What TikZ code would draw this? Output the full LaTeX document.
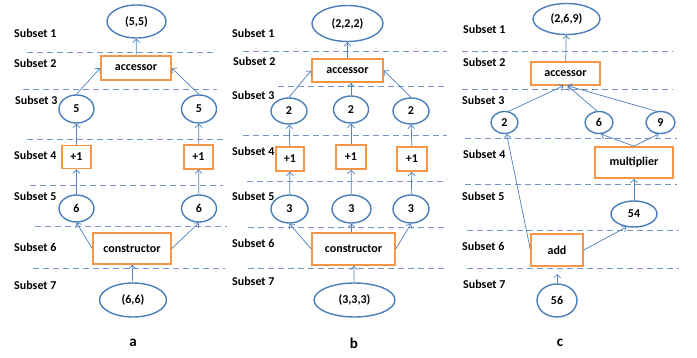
\documentclass[tikz,border=0pt]{standalone}
\usepackage{fontspec}
\setmainfont{Carlito}
\usetikzlibrary{arrows.meta,shapes.geometric,calc}
\definecolor{eblue}{RGB}{74,126,187}
\definecolor{aline}{RGB}{79,129,189}
\definecolor{dline}{RGB}{118,148,200}
\definecolor{obox}{RGB}{247,150,70}
\tikzset{
  val/.style={ellipse,draw=eblue,line width=1.4pt,inner sep=0pt,font=\bfseries\fontsize{12}{14}\selectfont},
  opbox/.style={rectangle,draw=obox,line width=1.6pt,inner sep=0pt,font=\bfseries\fontsize{12}{14}\selectfont},
  lbl/.style={anchor=west,inner sep=0pt,font=\bfseries\fontsize{12}{14}\selectfont},
  panelcap/.style={inner sep=0pt,font=\bfseries\fontsize{15}{17}\selectfont},
  arr/.style={draw=aline,line width=0.7pt,-{Straight Barb[length=3.5pt,width=7pt]}},
  sep/.style={draw=dline,line width=1pt,dash pattern=on 6pt off 4pt}
}
\begin{document}
\begin{tikzpicture}[x=1pt,y=-1pt]
\useasboundingbox[fill=white] (0,0) rectangle (697,358);
% ---------- dashed separators ----------
\draw[sep] (27,52.7) -- (217,52.7);
\draw[sep] (23,90) -- (217,90);
\draw[sep] (27,140) -- (224,140);
\draw[sep] (30,186) -- (223,186);
\draw[sep] (35,227) -- (227,227);
\draw[sep] (33,269) -- (225,269);

\draw[sep] (243,52) -- (447,52);
\draw[sep] (278,87) -- (447,87);
\draw[sep] (243,136) -- (447,136);
\draw[sep] (247,182) -- (447,182);
\draw[sep] (248,228) -- (447,228);
\draw[sep] (248,269) -- (447,269);

\draw[sep] (462,52) -- (673,52);
\draw[sep] (462,90) -- (673,90);
\draw[sep] (465,139) -- (677,139);
\draw[sep] (465,185) -- (677,185);
\draw[sep] (467,231) -- (679,231);
\draw[sep] (467,269) -- (679,269);

% ---------- subset labels ----------
\node[lbl] (la1) at (14,33) {Subset 1};
\node[lbl] (la2) at (14,63) {Subset 2};
\node[lbl] (la3) at (15,100) {Subset 3};
\node[lbl] (la4) at (14,155) {Subset 4};
\node[lbl] (la5) at (14,196) {Subset 5};
\node[lbl] (la6) at (14,247) {Subset 6};
\node[lbl] (la7) at (14,285) {Subset 7};

\node[lbl] (lb1) at (232,33) {Subset 1};
\node[lbl] (lb2) at (233,61) {Subset 2};
\node[lbl] (lb3) at (232,95) {Subset 3};
\node[lbl] (lb4) at (232,151) {Subset 4};
\node[lbl] (lb5) at (232,196) {Subset 5};
\node[lbl] (lb6) at (232,243) {Subset 6};
\node[lbl] (lb7) at (232,281) {Subset 7};

\node[lbl] (lc1) at (463,29) {Subset 1};
\node[lbl] (lc2) at (463,62) {Subset 2};
\node[lbl] (lc3) at (462,100) {Subset 3};
\node[lbl] (lc4) at (463,154) {Subset 4};
\node[lbl] (lc5) at (462,196) {Subset 5};
\node[lbl] (lc6) at (462,246) {Subset 6};
\node[lbl] (lc7) at (463,284) {Subset 7};

% ---------- panel a ----------
\node[val,minimum width=59pt,minimum height=33pt] (a55) at (136.5,21.5) {(5,5)};
\node[opbox,minimum width=70pt,minimum height=24pt] (aacc) at (136,68) {accessor};
\node[val,minimum width=35pt,minimum height=28pt] (a5l) at (76.5,109) {5};
\node[val,minimum width=35pt,minimum height=28pt] (a5r) at (199,109) {5};
\node[opbox,minimum width=29pt,minimum height=23pt] (ap1l) at (76.5,157) {+1};
\node[opbox,minimum width=29pt,minimum height=23.5pt] (ap1r) at (198.5,157) {+1};
\node[val,minimum width=35pt,minimum height=27pt] (a6l) at (76.5,208.5) {6};
\node[val,minimum width=35pt,minimum height=27pt] (a6r) at (199,208.5) {6};
\node[opbox,minimum width=78pt,minimum height=31pt] (acon) at (132,248.5) {constructor};
\node[val,minimum width=67pt,minimum height=34pt] (a66) at (133,300) {(6,6)};
\node[panelcap] (capa) at (133,343) {a};

\draw[arr] (aacc) -- (a55);
\draw[arr] (a5l.north) -- (aacc.west);
\draw[arr] (a5r.north) -- (aacc.east);
\draw[arr] (ap1l) -- (a5l);
\draw[arr] (ap1r) -- (a5r);
\draw[arr] (a6l) -- (ap1l);
\draw[arr] (a6r) -- (ap1r);
\draw[arr] (acon.west) -- (a6l.south);
\draw[arr] (acon.east) -- (a6r.south);
\draw[arr] (a66) -- (acon);

% ---------- panel b ----------
\node[val,minimum width=71pt,minimum height=36pt] (b222) at (347.5,23.5) {(2,2,2)};
\node[opbox,minimum width=71pt,minimum height=23pt] (bacc) at (347.5,70.5) {accessor};
\node[val,minimum width=36pt,minimum height=26pt] (b2l) at (289,111) {2};
\node[val,minimum width=35pt,minimum height=27pt] (b2m) at (351,109.5) {2};
\node[val,minimum width=36pt,minimum height=26pt] (b2r) at (411,111) {2};
\node[opbox,minimum width=28pt,minimum height=24pt] (bp1l) at (290,159) {+1};
\node[opbox,minimum width=30pt,minimum height=24pt] (bp1m) at (351,157) {+1};
\node[opbox,minimum width=30pt,minimum height=24pt] (bp1r) at (412,159) {+1};
\node[val,minimum width=37pt,minimum height=28pt] (b3l) at (289.5,209) {3};
\node[val,minimum width=39pt,minimum height=28pt] (b3m) at (351.5,209) {3};
\node[val,minimum width=36pt,minimum height=28pt] (b3r) at (411,209) {3};
\node[opbox,minimum width=83pt,minimum height=32pt] (bcon) at (353.5,249) {constructor};
\node[val,minimum width=81pt,minimum height=34pt] (b333) at (354.5,300) {(3,3,3)};
\node[panelcap] (capb) at (354,343) {b};

\draw[arr] (bacc) -- (b222);
\draw[arr] (b2l.north) -- (bacc.west);
\draw[arr] (b2m.north) -- (b2m.north |- bacc.south);
\draw[arr] (b2r.north) -- (bacc.east);
\draw[arr] (bp1l) -- (b2l);
\draw[arr] (bp1m) -- (b2m);
\draw[arr] (bp1r) -- (b2r);
\draw[arr] (b3l) -- (bp1l);
\draw[arr] (b3m) -- (bp1m);
\draw[arr] (b3r) -- (bp1r);
\draw[arr] (bcon.west) -- (b3l.south);
\draw[arr] (bcon.north -| b3m.south) -- (b3m.south);
\draw[arr] (bcon.east) -- (b3r.south);
\draw[arr] (b333) -- (bcon);

% ---------- panel c ----------
\node[val,minimum width=67pt,minimum height=31pt] (c269) at (566.5,19) {(2,6,9)};
\node[opbox,minimum width=69pt,minimum height=23pt] (cacc) at (565.5,73.5) {accessor};
\node[val,minimum width=27pt,minimum height=22pt] (c2) at (504.5,122.5) {2};
\node[val,minimum width=28pt,minimum height=22pt] (c6) at (599,122.5) {6};
\node[val,minimum width=29pt,minimum height=22pt] (c9) at (660.5,122.5) {9};
\node[opbox,minimum width=78pt,minimum height=31pt] (cmul) at (634,162.5) {multiplier};
\node[val,minimum width=46pt,minimum height=26pt] (c54) at (634,214) {54};
\node[opbox,minimum width=52pt,minimum height=32pt] (cadd) at (557,250) {add};
\node[val,minimum width=40pt,minimum height=33pt] (c56) at (557,300.5) {56};
\node[panelcap] (capc) at (560,343) {c};
\coordinate (ctip) at (557,274);

\draw[arr] (cacc) -- (c269);
\draw[arr] (c2.70) -- ([xshift=-2pt]cacc.south);
\draw[arr] (c6.100) -- ([xshift=2pt]cacc.south);
\draw[arr] (c9.110) -- ([xshift=2pt]cacc.south);
\draw[arr] (cmul.north) -- (c6.-80);
\draw[arr] (cmul.north) -- (c9.-100);
\draw[arr] (c54) -- (cmul);
\draw[arr] (cadd.east) -- (c54.-120);
\draw[arr] ([yshift=1pt]cadd.west) -- (c2.-80);
\draw[arr] (c56.north) -- (ctip);
\end{tikzpicture}
\end{document}
